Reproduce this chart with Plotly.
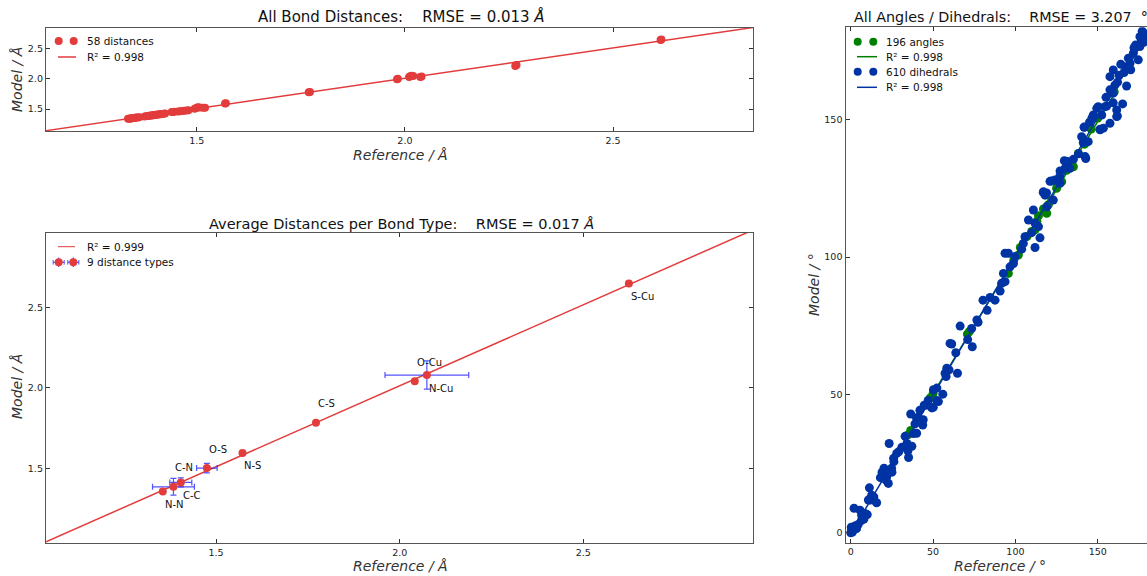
import numpy as np
import plotly.graph_objects as go

# ---------------- data ----------------
# all individual bond distances (reference vs model), in Angstrom
bond_ref = [1.335, 1.338, 1.340, 1.342, 1.345, 1.348, 1.350, 1.352, 1.355, 1.358, 1.362,
            1.375, 1.380, 1.383, 1.386, 1.389, 1.392, 1.395, 1.398, 1.401, 1.404, 1.407,
            1.410, 1.413, 1.416, 1.420, 1.424,
            1.440, 1.443, 1.446, 1.455, 1.460, 1.465, 1.470, 1.476, 1.480,
            1.495, 1.500, 1.503, 1.507, 1.515, 1.520,
            1.568, 1.570, 1.769, 1.772,
            1.981, 1.983, 2.010, 2.013, 2.016, 2.020, 2.037, 2.040,
            2.265, 2.268, 2.614, 2.616]
bond_model = [1.338, 1.342, 1.343, 1.345, 1.350, 1.352, 1.353, 1.356, 1.360, 1.362, 1.366,
              1.378, 1.384, 1.386, 1.388, 1.392, 1.395, 1.398, 1.402, 1.404, 1.407, 1.410,
              1.413, 1.416, 1.420, 1.423, 1.428,
              1.450, 1.452, 1.455, 1.460, 1.462, 1.468, 1.472, 1.478, 1.482,
              1.505, 1.520, 1.530, 1.525, 1.520, 1.522,
              1.590, 1.595, 1.778, 1.782,
              1.990, 2.000, 2.030, 2.040, 2.050, 2.045, 2.030, 2.035,
              2.210, 2.225, 2.638, 2.645]

# averages per bond type
bond_types = ["N-N", "C-N", "C-C", "O-S", "N-S", "C-S", "O-Cu", "N-Cu", "S-Cu"]
type_ref = [1.355, 1.384, 1.404, 1.475, 1.572, 1.772, 2.041, 2.074, 2.624]
type_model = [1.357, 1.386, 1.413, 1.502, 1.596, 1.783, 2.042, 2.080, 2.649]
type_ref_err = [0.0, 0.057, 0.030, 0.028, 0.0, 0.0, 0.0, 0.114, 0.0]
type_model_err = [0.0, 0.052, 0.028, 0.030, 0.0, 0.0, 0.0, 0.088, 0.0]
label_side = ["below", "above", "below", "above", "below", "above", "above", "below", "below"]

# angles and dihedrals, in degrees
angle_ref = [34.7, 36.4, 48.2, 50.0, 70.8, 72.0, 95.7, 99.0, 101.8, 103.0, 107.0, 109.9,
             111.9, 113.0, 114.0, 117.0, 119.0, 120.0, 122.0, 125.0, 128.1, 131.0, 135.2,
             138.2, 142.0, 146.0, 150.0, 160.0]
angle_model = [35.5, 37.1, 48.9, 50.5, 72.1, 73.0, 94.1, 99.0, 100.8, 103.5, 107.5, 109.3,
               109.9, 113.0, 115.0, 117.5, 115.9, 119.0, 120.7, 125.0, 127.4, 131.5, 132.8,
               137.6, 141.0, 146.5, 150.5, 160.0]

dihedral_ref = [0.0, 0.6, 1.6, 1.0, 0.3, 2.5, 3.5, 4.5, 2.0, 5.6, 6.6, 8.6, 10.0, 6.4, 8.0,
                10.7, 11.3, 12.7, 13.7, 15.7, 11.7, 12.0, 14.0, 18.0, 19.0, 20.2, 21.8, 21.4,
                22.8, 24.8, 26.2, 27.9, 29.1, 23.3, 25.0, 26.0, 31.0, 33.0, 34.1, 34.7, 35.1,
                37.1, 38.0, 39.0, 36.4, 40.0, 42.0, 43.7, 40.0, 41.0, 44.0, 45.7, 44.6, 47.0,
                49.2, 50.1, 53.2, 50.2, 52.3, 52.3, 55.9, 57.3, 57.9, 58.3, 59.7, 64.8, 60.3,
                61.3, 63.8, 66.4, 71.0, 73.4, 73.8, 76.6, 77.3, 80.3, 82.8, 84.6, 87.6, 90.7,
                91.6, 93.7, 92.7, 96.7, 98.8, 99.8, 93.7, 95.7, 103.8, 104.8, 105.8, 111.9,
                114.9, 109.9, 111.9, 114.0, 107.9, 110.9, 119.0, 123.0, 118.0, 117.0, 116.9,
                118.9, 121.0, 122.0, 124.0, 127.1, 127.1, 126.9, 133.1, 129.7, 130.2, 131.6,
                135.2, 142.7, 142.3, 138.3, 141.2, 144.2, 140.2, 141.8, 141.7, 147.3, 151.4,
                157.4, 161.9, 150.3, 155.4, 159.4, 165.1, 161.5, 149.4, 154.4, 152.4, 161.5,
                153.4, 151.4, 159.4, 157.4, 160.4, 167.5, 157.4, 159.4, 163.0, 164.0, 166.0,
                170.0, 169.6, 168.6, 171.6, 174.6, 172.0, 175.6, 175.6, 178.6, 178.0, 177.0,
                176.5, 179.0, 173.0, 167.0, 162.0, 145.0, 146.5, 155.0]
dihedral_model = [0.0, 1.0, 1.8, 0.3, 2.0, 2.5, 1.5, 3.0, 8.9, 8.2, 6.4, 7.0, 6.6, 4.4, 5.0,
                  11.9, 16.3, 13.6, 11.9, 10.9, 11.9, 12.5, 13.0, 20.0, 22.0, 23.4, 20.3, 19.1,
                  17.9, 23.4, 25.8, 28.8, 29.4, 32.4, 22.0, 27.0, 31.0, 35.0, 32.4, 29.7, 27.3,
                  31.4, 36.0, 39.5, 43.1, 41.5, 44.5, 39.1, 36.1, 42.0, 41.0, 46.3, 46.3, 48.0,
                  45.3, 45.5, 47.6, 51.9, 52.5, 48.0, 50.3, 57.9, 56.7, 59.7, 59.1, 57.9, 68.7,
                  68.5, 65.3, 75.0, 70.1, 74.1, 67.5, 77.2, 76.4, 84.4, 80.7, 85.4, 84.4, 87.7,
                  90.5, 91.1, 94.1, 96.5, 97.7, 100.2, 101.4, 101.4, 102.9, 105.0, 107.4, 103.5,
                  107.0, 108.9, 112.3, 111.1, 113.5, 117.1, 118.3, 120.7, 122.5, 123.7, 123.5,
                  123.3, 127.5, 127.6, 128.0, 126.8, 131.3, 129.3, 132.2, 135.0, 132.3, 134.7,
                  135.5, 135.8, 136.5, 137.5, 141.5, 141.9, 143.7, 147.1, 147.2, 151.6, 146.4,
                  148.6, 151.2, 154.6, 154.8, 156.0, 155.6, 153.4, 154.0, 154.6, 151.6, 151.0,
                  146.8, 146.2, 159.5, 160.7, 162.4, 162.1, 165.5, 167.9, 166.0, 170.0, 167.0,
                  168.0, 170.4, 172.2, 174.0, 171.6, 176.0, 176.4, 180.0, 180.6, 178.0, 182.0,
                  178.5, 181.0, 177.0, 169.0, 163.5, 149.0, 150.5, 158.0]

# ---------------- styling ----------------
W, H = 1147, 576
RED = "rgb(226,60,60)"
GREEN = "#008000"
BLUE = "#0033a3"
ERR = "rgba(40,40,255,0.8)"
FONT = "DejaVu Sans"
NB = "\u00a0"


def px(x):
    return x / W


def py(y):
    return 1 - y / H


def fit_line(xs, ys, x0, x1):
    slope, icpt = np.polyfit(xs, ys, 1)
    return [x0, x1], [icpt + slope * x0, icpt + slope * x1]


top_rng = [1.138, 2.836]
bot_rng = [1.037, 2.962]
ang_x_rng = [-3.2, 179.9]
ang_y_rng = [-3.6, 183.4]

fig = go.Figure()

# --- panel 1: all bond distances
lx, ly = fit_line(bond_ref, bond_model, top_rng[0], top_rng[1])
fig.add_trace(go.Scatter(x=bond_ref, y=bond_model, mode="markers", xaxis="x", yaxis="y",
                         marker=dict(color=RED, size=8, line=dict(width=0)), showlegend=False))
fig.add_trace(go.Scatter(x=lx, y=ly, mode="lines", xaxis="x", yaxis="y",
                         line=dict(color=RED, width=1.5), showlegend=False))

# --- panel 2: averages per bond type
lx, ly = fit_line(type_ref, type_model, bot_rng[0], bot_rng[1])
fig.add_trace(go.Scatter(x=lx, y=ly, mode="lines", xaxis="x2", yaxis="y2",
                         line=dict(color=RED, width=1.5), showlegend=False))
fig.add_trace(go.Scatter(x=type_ref, y=type_model, mode="markers", xaxis="x2", yaxis="y2",
                         marker=dict(color=RED, size=8, line=dict(width=0)),
                         error_x=dict(type="data", array=type_ref_err, color=ERR, thickness=1.2, width=3),
                         error_y=dict(type="data", array=type_model_err, color=ERR, thickness=1.2, width=3),
                         showlegend=False))

# --- panel 3: angles and dihedrals
lx, ly = fit_line(angle_ref, angle_model, min(angle_ref), max(angle_ref))
fig.add_trace(go.Scatter(x=angle_ref, y=angle_model, mode="markers", xaxis="x3", yaxis="y3",
                         marker=dict(color=GREEN, size=9, line=dict(width=0)), showlegend=False))
fig.add_trace(go.Scatter(x=lx, y=ly, mode="lines", xaxis="x3", yaxis="y3",
                         line=dict(color=GREEN, width=1.5), showlegend=False))
lx, ly = fit_line(dihedral_ref, dihedral_model, min(dihedral_ref), max(dihedral_ref))
fig.add_trace(go.Scatter(x=dihedral_ref, y=dihedral_model, mode="markers", xaxis="x3", yaxis="y3",
                         marker=dict(color=BLUE, size=9, line=dict(width=0)), showlegend=False))
fig.add_trace(go.Scatter(x=lx, y=ly, mode="lines", xaxis="x3", yaxis="y3",
                         line=dict(color=BLUE, width=1.5), showlegend=False))

# ---------------- axes ----------------
common = dict(showline=True, linecolor="#555", linewidth=1.3, mirror="ticks", ticks="inside",
              ticklen=4, tickwidth=1, tickcolor="#333", showgrid=False, zeroline=False,
              tickfont=dict(family=FONT, size=9.5, color="#222"), automargin=False)

fig.update_layout(
    xaxis=dict(domain=[px(46), px(753)], range=top_rng, tickvals=[1.5, 2.0, 2.5],
               ticktext=["1.5", "2.0", "2.5"], anchor="y", **common),
    yaxis=dict(domain=[py(131), py(28)], range=top_rng, tickvals=[1.5, 2.0, 2.5],
               ticktext=["1.5", "2.0", "2.5"], anchor="x", **common),
    xaxis2=dict(domain=[px(46), px(753)], range=bot_rng, tickvals=[1.5, 2.0, 2.5],
                ticktext=["1.5", "2.0", "2.5"], anchor="y2", **common),
    yaxis2=dict(domain=[py(543), py(233)], range=bot_rng, tickvals=[1.5, 2.0, 2.5],
                ticktext=["1.5", "2.0", "2.5"], anchor="x2", **common),
    xaxis3=dict(domain=[px(845.5), 1.0], range=ang_x_rng, tickvals=[0, 50, 100, 150],
                anchor="y3", **common),
    yaxis3=dict(domain=[py(542.7), py(27.3)], range=ang_y_rng, tickvals=[0, 50, 100, 150],
                anchor="x3", **{**common, "mirror": False}),
)

annotations = []
shapes = []


def text(x, y, s, size, xanchor="center", color="#111", angle=0, italic=False, ref=("paper", "paper"),
         yshift=0):
    annotations.append(dict(x=x, y=y, xref=ref[0], yref=ref[1], text=s, showarrow=False,
                            xanchor=xanchor, yanchor="middle", textangle=angle, yshift=yshift,
                            font=dict(family=FONT, size=size, color=color,
                                      style="italic" if italic else "normal")))


# titles
sp = NB * 4
text(px(401), py(17), f"All Bond Distances:{sp}RMSE = 0.013 <i>Å</i>", 15)
text(px(401), py(224), f"Average Distances per Bond Type:{sp}RMSE = 0.017 <i>Å</i>", 14.5)
text(px(852), py(17), f"All Angles / Dihedrals:{sp}RMSE = 3.207{NB * 2}°", 14.3, xanchor="left")

# axis titles
text(px(400), py(155), "Reference / Å", 14, color="#333", italic=True)
text(px(17), py(80), "Model / Å", 14, color="#333", italic=True, angle=-90)
text(px(400), py(566), "Reference / Å", 14, color="#333", italic=True)
text(px(17), py(387), "Model / Å", 14, color="#333", italic=True, angle=-90)
text(px(1000), py(566), "Reference / °", 14, color="#333", italic=True)
text(px(814), py(285), "Model / °", 14, color="#333", italic=True, angle=-90)

# bond type labels next to their points
for name, xr, ym, side in zip(bond_types, type_ref, type_model, label_side):
    text(xr, ym, name, 10, xanchor="left", ref=("x2", "y2"),
         yshift=19 if side == "above" else -13)


# legends
def dot(cx, cy, color, r=4):
    shapes.append(dict(type="circle", xref="paper", yref="paper", x0=px(cx - r), x1=px(cx + r),
                       y0=py(cy + r), y1=py(cy - r), fillcolor=color, line=dict(width=0)))


def seg(x0, y0, x1, y1, color, width=1.5):
    shapes.append(dict(type="line", xref="paper", yref="paper", x0=px(x0), x1=px(x1),
                       y0=py(y0), y1=py(y1), line=dict(color=color, width=width)))


# panel 1 legend
dot(58.7, 41, RED)
dot(73.7, 41, RED)
text(px(85), py(41), "58 distances", 10.5, xanchor="left")
seg(58, 57, 76, 57, RED)
text(px(85), py(57), "R² = 0.998", 10.5, xanchor="left")

# panel 2 legend
seg(58, 246.7, 75, 246.7, RED, 1)
text(px(85), py(246.7), "R² = 0.999", 10.5, xanchor="left")
for cx in (58.7, 73.3):
    seg(cx - 5.5, 262.3, cx + 5.5, 262.3, ERR, 1.2)
    seg(cx - 5.5, 260, cx - 5.5, 264.6, ERR, 1)
    seg(cx + 5.5, 260, cx + 5.5, 264.6, ERR, 1)
    seg(cx, 257.5, cx, 267, ERR, 1.2)
    dot(cx, 262.3, RED)
text(px(85), py(262.3), "9 distance types", 10.5, xanchor="left")

# panel 3 legend
dot(857.7, 41.7, GREEN)
dot(873.3, 41.7, GREEN)
text(px(884.3), py(41.7), "196 angles", 10.5, xanchor="left")
seg(857, 56.7, 877, 56.7, GREEN)
text(px(884.3), py(56.7), "R² = 0.998", 10.5, xanchor="left")
dot(857.7, 71.7, BLUE)
dot(873.3, 71.7, BLUE)
text(px(884.3), py(71.7), "610 dihedrals", 10.5, xanchor="left")
seg(857, 87.3, 877, 87.3, BLUE)
text(px(884.3), py(87.3), "R² = 0.998", 10.5, xanchor="left")

fig.update_layout(
    width=W, height=H, margin=dict(l=0, r=0, t=0, b=0),
    paper_bgcolor="white", plot_bgcolor="white", showlegend=False,
    annotations=annotations, shapes=shapes,
    font=dict(family=FONT),
)

fig.write_html("out.html")
